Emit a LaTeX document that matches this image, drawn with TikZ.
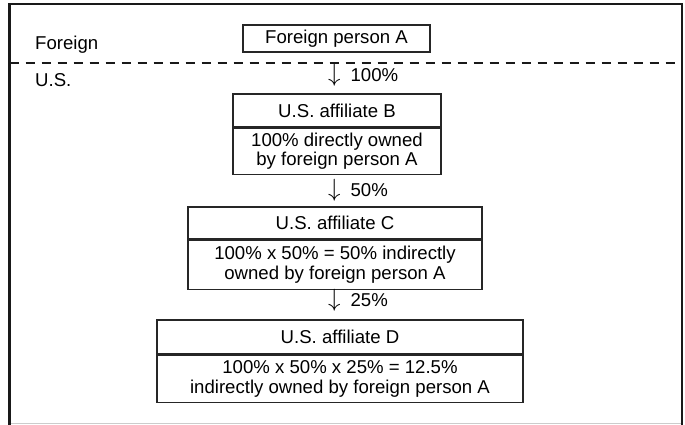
\documentclass[tikz,border=0pt]{standalone}
\usepackage{fontspec}
\setmainfont{Liberation Sans}
\usetikzlibrary{calc}

\begin{document}
\begin{tikzpicture}[x=1pt,y=-1pt,
    box/.style={draw=black!85,line width=1.2pt,inner sep=0pt,align=center,
      font=\fontsize{18.6}{19.5}\selectfont},
    lbl/.style={inner sep=0pt,anchor=west,font=\fontsize{18.6}{19.5}\selectfont}]
    \useasboundingbox (0,0) rectangle (685,425);

    % frame and the foreign / U.S. border
    \draw[gray!40,line width=1pt] (9.5,423.5) -- (682,423.5);
    \draw[black!90,line width=2.5pt] (9.5,425) -- (9.5,4) -- (682,4) -- (682,425);
    \draw[black!90,line width=2pt,dash pattern=on 9pt off 7pt] (9.5,63) -- (682,63);

    \node[lbl] (foreign) at (35,45) {Foreign};
    \node[lbl] (us) at (35,80) {U.S.};

    \node[box,minimum width=187,minimum height=27] (A) at (336.5,38.5) {Foreign person A};

    % affiliates
    \node[box,minimum width=208,minimum height=33] (Btitle) at (337,110.5) {U.S. affiliate B};
    \node[box,minimum width=208,minimum height=46,anchor=north] (Bbody) at (Btitle.south)
      {100\% directly owned\\by foreign person A};

    \node[box,minimum width=294,minimum height=32] (Ctitle) at (335,223) {U.S. affiliate C};
    \node[box,minimum width=294,minimum height=49,anchor=north] (Cbody) at (Ctitle.south)
      {100\% x 50\% = 50\% indirectly\\owned by foreign person A};

    \node[box,minimum width=366,minimum height=34] (Dtitle) at (340,337) {U.S. affiliate D};
    \node[box,minimum width=366,minimum height=47,anchor=north] (Dbody) at (Dtitle.south)
      {100\% x 50\% x 25\% = 12.5\%\\indirectly owned by foreign person A};

    % ownership shares
    \node[lbl] (AB) at (328,75) {{\fontsize{24}{24}\selectfont$\downarrow$}\hspace{10pt}100\%};
    \node[lbl] (BC) at (328,190) {{\fontsize{24}{24}\selectfont$\downarrow$}\hspace{10pt}50\%};
    \node[lbl] (CD) at (328,300) {{\fontsize{24}{24}\selectfont$\downarrow$}\hspace{10pt}25\%};

  \end{tikzpicture}
\end{document}
